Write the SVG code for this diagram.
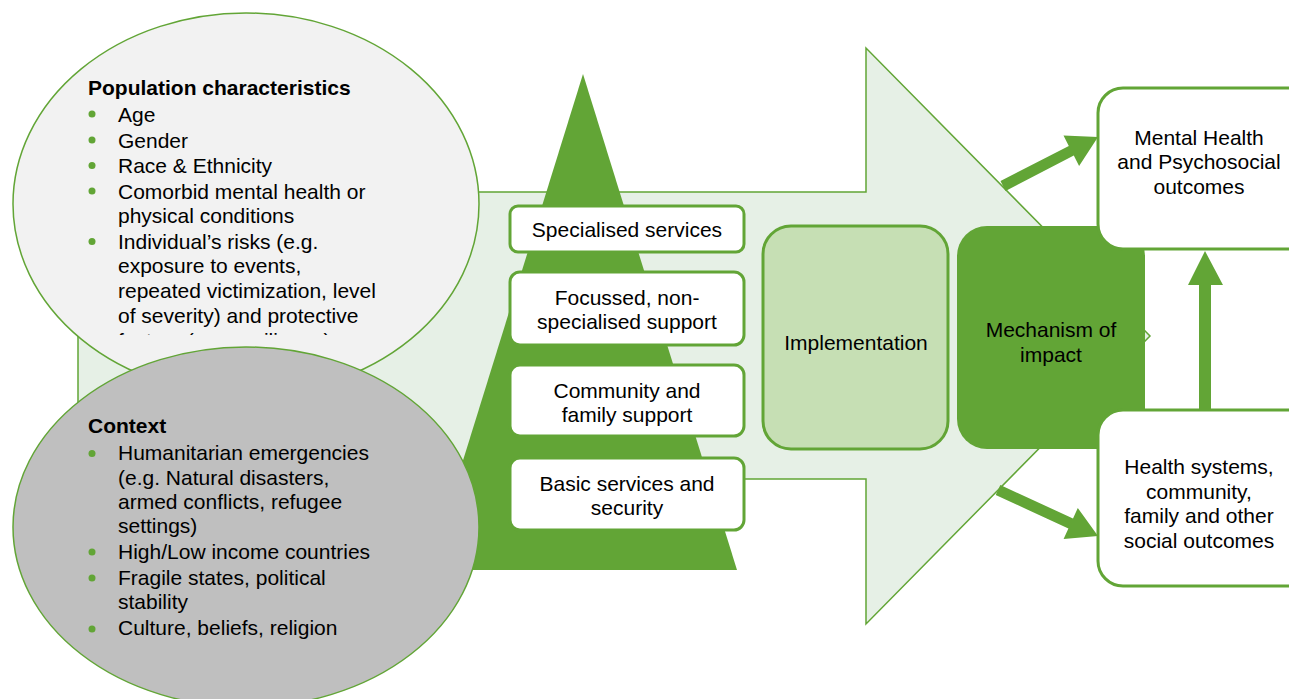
<svg xmlns="http://www.w3.org/2000/svg" width="1289" height="699" viewBox="0 0 1289 699">
<style>
text{font-family:"Liberation Sans",Arial,sans-serif;font-size:21px;fill:#000}
.b{font-weight:bold}
.c{text-anchor:middle}
.box{fill:#fff;stroke:#62A536;stroke-width:3}
.g{fill:#62A536}
.dot{fill:#62A536}
</style>
<defs>
<clipPath id="clipPop"><rect x="0" y="0" width="500" height="335"/></clipPath>
</defs>
<rect width="1289" height="699" fill="#fff"/>
<g id="big-arrow">
<polygon points="78,192 866,192 866,48 1150,336 866,624 866,479 78,479" fill="#E6F0E6" stroke="#62A536" stroke-width="1.5"/>
</g>
<g id="pyramid">
<polygon points="583,74 737,570 429,570" class="g"/>
</g>
<g id="specialised"><rect class="box" x="510" y="206" width="234" height="46" rx="8"/><text class="c" x="627" y="237">Specialised services</text></g>
<g id="focussed"><rect class="box" x="510" y="272" width="234" height="73" rx="10"/><text class="c" x="627" y="304.5">Focussed, non-</text><text class="c" x="627" y="328.5">specialised support</text></g>
<g id="community"><rect class="box" x="510" y="365" width="234" height="71" rx="10"/><text class="c" x="627" y="397.5">Community and</text><text class="c" x="627" y="421.5">family support</text></g>
<g id="basic"><rect class="box" x="510" y="458" width="234" height="72" rx="10"/><text class="c" x="627" y="490.5">Basic services and</text><text class="c" x="627" y="514.5">security</text></g>
<g id="implementation"><rect x="763" y="226" width="185" height="223" rx="28" fill="#C6DFB4" stroke="#62A536" stroke-width="3"/><text class="c" x="856" y="349.5">Implementation</text></g>
<g id="mechanism"><rect x="957" y="226" width="188" height="223" rx="30" class="g"/><text class="c" x="1051" y="336.5">Mechanism of</text><text class="c" x="1051" y="361.5">impact</text></g>
<g id="mh-outcomes"><rect class="box" x="1098" y="88" width="215" height="161" rx="25"/><text class="c" x="1199" y="144.5">Mental Health</text><text class="c" x="1199" y="168.5">and Psychosocial</text><text class="c" x="1199" y="193.5">outcomes</text></g>
<g id="social-outcomes"><rect class="box" x="1098" y="410" width="215" height="176" rx="25"/><text class="c" x="1199" y="473.5">Health systems,</text><text class="c" x="1199" y="498.5">community,</text><text class="c" x="1199" y="522.5">family and other</text><text class="c" x="1199" y="547.5">social outcomes</text></g>
<g id="connectors" class="g">
<polygon points="1000.5,181.1 1068.8,145.9 1063.5,135.6 1098,137 1079.1,165.9 1073.8,155.6 1005.5,190.9"/>
<polygon points="1000.3,485 1073,518.5 1077.8,508 1098,536 1063.6,539 1068.4,528.5 995.7,495"/>
<polygon points="1199,410 1199,285 1188,285 1205,251 1223,285 1211,285 1211,410"/>
</g>
<g id="population">
<ellipse cx="246" cy="204" rx="233" ry="191" fill="#F2F2F2" stroke="#62A536" stroke-width="1.5"/>
<text class="b" x="88" y="94.5">Population characteristics</text>
<circle class="dot" cx="92" cy="114" r="3.5"/><text x="118" y="122">Age</text>
<circle class="dot" cx="92" cy="140" r="3.5"/><text x="118" y="147.5">Gender</text>
<circle class="dot" cx="92" cy="165.5" r="3.5"/><text x="118" y="173">Race &amp; Ethnicity</text>
<circle class="dot" cx="92" cy="191" r="3.5"/><text x="118" y="198.5">Comorbid mental health or</text>
<text x="118" y="223">physical conditions</text>
<circle class="dot" cx="92" cy="241.5" r="3.5"/><text x="118" y="248.5">Individual’s risks (e.g.</text>
<text x="118" y="273">exposure to events,</text>
<text x="118" y="298">repeated victimization, level</text>
<text x="118" y="323">of severity) and protective</text>
<text x="118" y="348" clip-path="url(#clipPop)">factors (e.g. resilience)</text>
</g>
<g id="context">
<ellipse cx="246" cy="527" rx="233" ry="180" fill="#BFBFBF" stroke="#62A536" stroke-width="1.5"/>
<text class="b" x="88" y="433">Context</text>
<circle class="dot" cx="92" cy="453.5" r="3.5"/><text x="118" y="460">Humanitarian emergencies</text>
<text x="118" y="484.5">(e.g. Natural disasters,</text>
<text x="118" y="509">armed conflicts, refugee</text>
<text x="118" y="533">settings)</text>
<circle class="dot" cx="92" cy="552" r="3.5"/><text x="118" y="559">High/Low income countries</text>
<circle class="dot" cx="92" cy="578" r="3.5"/><text x="118" y="584.5">Fragile states, political</text>
<text x="118" y="609">stability</text>
<circle class="dot" cx="92" cy="629" r="3.5"/><text x="118" y="635">Culture, beliefs, religion</text>
</g>
</svg>
